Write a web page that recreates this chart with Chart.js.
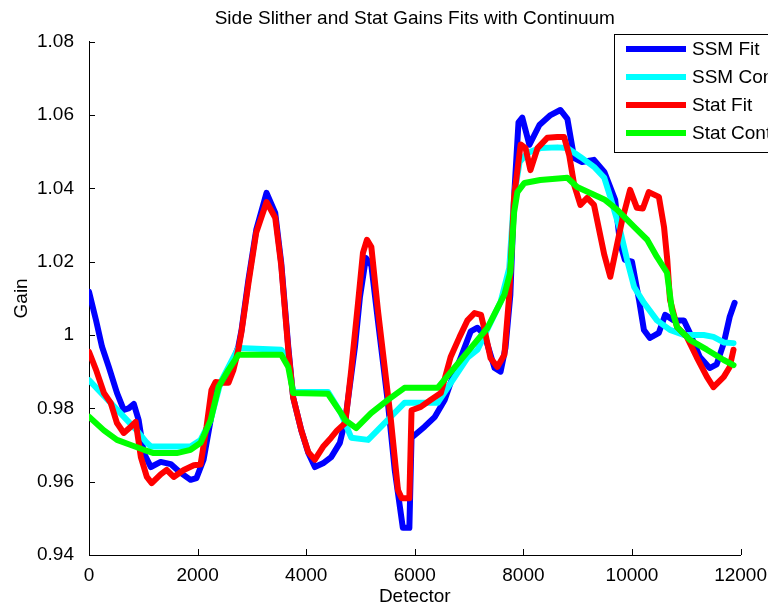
<!DOCTYPE html>
<html>
<head>
<meta charset="utf-8">
<script src="https://cdn.jsdelivr.net/npm/chart.js@4.4.0/dist/chart.umd.min.js"></script>
<style>
  html, body { margin: 0; padding: 0; background: #fff; overflow: hidden; }
</style>
</head>
<body>
<canvas id="gains" width="768" height="608"></canvas>
<script>
// detector position / gain pairs for each curve
const ssmFitX = [0, 130, 240, 365, 515, 640, 730, 825, 915, 1010, 1140, 1320, 1505, 1690, 1870, 1980, 2110, 2240, 2330, 2440, 2570, 2750, 2810, 2935, 3080, 3270, 3430, 3540, 3670, 3760, 3910, 4040, 4160, 4310, 4460, 4620, 4720, 4900, 4990, 5100, 5200, 5320, 5505, 5630, 5780, 5900, 5940, 6180, 6370, 6550, 6660, 6850, 7030, 7155, 7285, 7470, 7580, 7670, 7760, 7830, 7910, 7980, 8110, 8295, 8500, 8680, 8810, 8935, 9080, 9300, 9490, 9690, 9780, 9870, 10000, 10130, 10220, 10330, 10495, 10610, 10770, 10955, 11065, 11250, 11430, 11560, 11690, 11800, 11890];
const ssmFitY = [1.0118, 1.004, 0.9968, 0.9913, 0.9842, 0.9796, 0.98, 0.9812, 0.9768, 0.9678, 0.964, 0.9654, 0.9648, 0.9624, 0.9605, 0.961, 0.966, 0.9768, 0.985, 0.987, 0.9896, 0.9968, 1.0014, 1.015, 1.0287, 1.0388, 1.0333, 1.0197, 0.9968, 0.983, 0.974, 0.9678, 0.964, 0.965, 0.9667, 0.9706, 0.9768, 0.997, 1.0104, 1.021, 1.019, 1.004, 0.9815, 0.9632, 0.9474, 0.9474, 0.972, 0.975, 0.9777, 0.9823, 0.987, 0.994, 1.001, 1.002, 1.0, 0.991, 0.99, 0.9965, 1.011, 1.038, 1.058, 1.0593, 1.0519, 1.0573, 1.06, 1.0614, 1.059, 1.0483, 1.0472, 1.0478, 1.0445, 1.0369, 1.0251, 1.0205, 1.02, 1.0096, 1.0014, 0.9992, 1.0006, 1.0055, 1.004, 1.004, 1.0006, 0.994, 0.991, 0.992, 0.9978, 1.005, 1.0088];

const ssmContX = [0, 700, 880, 1065, 1140, 1870, 2055, 2240, 2420, 2750, 3540, 3670, 3760, 4400, 4640, 4830, 5140, 5380, 5810, 6420, 6970, 7155, 7580, 7740, 7830, 7930, 8075, 8310, 8625, 8810, 9050, 9300, 9490, 9600, 9780, 9910, 10040, 10220, 10460, 10700, 10955, 11320, 11500, 11690, 11870];
const ssmContY = [0.9877, 0.9768, 0.974, 0.9706, 0.9696, 0.9696, 0.9714, 0.9768, 0.987, 0.9965, 0.996, 0.993, 0.9845, 0.9845, 0.9787, 0.972, 0.9714, 0.975, 0.9815, 0.9815, 0.9938, 0.996, 1.009, 1.0183, 1.038, 1.0472, 1.0497, 1.051, 1.0512, 1.051, 1.0486, 1.0459, 1.0429, 1.0377, 1.0287, 1.0205, 1.0131, 1.0088, 1.004, 1.0014, 1.0, 1.0, 0.9995, 0.998, 0.9978];

const statFitX = [0, 130, 275, 400, 515, 640, 770, 860, 955, 1065, 1155, 1320, 1430, 1560, 1745, 1930, 2055, 2165, 2255, 2330, 2440, 2570, 2660, 2750, 2810, 2935, 3080, 3270, 3430, 3540, 3670, 3760, 3910, 4040, 4160, 4310, 4460, 4570, 4720, 4830, 4955, 5045, 5120, 5200, 5320, 5560, 5690, 5760, 5900, 5940, 6110, 6290, 6480, 6660, 6825, 6970, 7100, 7220, 7285, 7395, 7520, 7650, 7740, 7830, 7950, 8040, 8130, 8260, 8440, 8625, 8750, 8845, 8935, 9050, 9175, 9300, 9490, 9600, 9820, 9965, 10090, 10200, 10310, 10495, 10590, 10650, 10700, 10830, 11010, 11190, 11380, 11500, 11690, 11800, 11870];
const statFitY = [0.9954, 0.9905, 0.9842, 0.9815, 0.976, 0.9733, 0.975, 0.9763, 0.9667, 0.9613, 0.9596, 0.962, 0.9632, 0.9613, 0.9632, 0.9645, 0.9647, 0.975, 0.985, 0.9872, 0.987, 0.987, 0.9905, 0.996, 1.001, 1.014, 1.028, 1.0363, 1.032, 1.019, 0.996, 0.983, 0.974, 0.968, 0.966, 0.9695, 0.972, 0.974, 0.976, 0.9905, 1.0088, 1.0224, 1.026, 1.024, 1.0069, 0.9768, 0.9577, 0.9555, 0.9555, 0.9795, 0.9804, 0.9823, 0.9842, 0.994, 0.9995, 1.004, 1.006, 1.0055, 1.0014, 0.9937, 0.9913, 0.9946, 1.011, 1.038, 1.052, 1.051, 1.045, 1.051, 1.0538, 1.054, 1.054, 1.049, 1.041, 1.0355, 1.0374, 1.0355, 1.0219, 1.0159, 1.0314, 1.0396, 1.0347, 1.0345, 1.039, 1.0377, 1.0295, 1.0205, 1.0096, 1.0022, 0.9995, 0.994, 0.9886, 0.9858, 0.9886, 0.9913, 0.996];

const statContX = [0, 275, 515, 770, 1010, 1190, 1615, 1870, 2055, 2240, 2385, 2570, 2750, 3540, 3670, 3760, 4400, 4640, 4720, 4920, 5195, 5505, 5810, 6420, 7155, 7340, 7650, 7760, 7830, 7890, 8020, 8310, 8810, 8990, 9300, 9490, 9725, 10040, 10280, 10460, 10645, 10735, 10830, 11065, 11380, 11690, 11870];
const statContY = [0.9777, 0.974, 0.9714, 0.97, 0.9687, 0.9678, 0.9678, 0.9687, 0.9706, 0.9768, 0.9858, 0.9905, 0.9946, 0.9946, 0.9913, 0.9842, 0.984, 0.9787, 0.9768, 0.9746, 0.9787, 0.9823, 0.9856, 0.9856, 0.9987, 1.002, 1.011, 1.0172, 1.0336, 1.039, 1.0415, 1.0423, 1.0429, 1.0404, 1.0383, 1.037, 1.0342, 1.0295, 1.026, 1.0213, 1.017, 1.0069, 1.0022, 0.9987, 0.996, 0.9932, 0.9918];

const seriesNames = ['SSM Fit', 'SSM Continuum', 'Stat Fit', 'Stat Continuum'];
const xTicks = [0, 2000, 4000, 6000, 8000, 10000, 12000];
const yTicks = [0.94, 0.96, 0.98, 1.0, 1.02, 1.04, 1.06, 1.08];

const FONT = '"Liberation Sans", Arial, sans-serif';

function pts(xs, ys) {
  return xs.map((x, i) => ({ x: x, y: ys[i] }));
}

function line(label, xs, ys, color, order) {
  return {
    label: label,
    data: pts(xs, ys),
    borderColor: color,
    backgroundColor: color,
    borderWidth: 6,
    pointRadius: 0,
    tension: 0,
    borderJoinStyle: 'round',
    borderCapStyle: 'round',
    order: order
  };
}

// matlab-style ticks pointing into the axes
const inwardTicks = {
  id: 'inwardTicks',
  beforeDatasetsDraw(chart) {
    const { ctx, chartArea: a, scales } = chart;
    ctx.save();
    ctx.strokeStyle = '#000';
    ctx.lineWidth = 1;
    ctx.beginPath();
    scales.x.ticks.forEach((t, i) => {
      const px = Math.round(scales.x.getPixelForTick(i)) + 0.5;
      ctx.moveTo(px, a.bottom);
      ctx.lineTo(px, a.bottom - 6);
    });
    scales.y.ticks.forEach((t, i) => {
      const py = Math.round(scales.y.getPixelForTick(i)) + 0.5;
      ctx.moveTo(a.left, py);
      ctx.lineTo(a.left + 6, py);
    });
    ctx.stroke();
    ctx.restore();
  }
};

// boxed legend in the upper right corner, running off the edge
const boxLegend = {
  id: 'boxLegend',
  afterDraw(chart) {
    const ctx = chart.ctx;
    const left = 614, top = 34, rowH = 28;
    ctx.save();
    ctx.fillStyle = '#fff';
    ctx.fillRect(left, top, 200, 118);
    ctx.strokeStyle = '#000';
    ctx.lineWidth = 1;
    ctx.strokeRect(left + 0.5, top + 0.5, 200, 118);
    ctx.font = '19px ' + FONT;
    ctx.textBaseline = 'middle';
    chart.data.datasets.forEach((ds, i) => {
      const yy = top + 15 + i * rowH;
      ctx.strokeStyle = ds.borderColor;
      ctx.lineWidth = 6;
      ctx.beginPath();
      ctx.moveTo(left + 12, yy);
      ctx.lineTo(left + 72, yy);
      ctx.stroke();
      ctx.fillStyle = '#000';
      ctx.fillText(ds.label, left + 78, yy + 1);
    });
    ctx.restore();
  }
};

new Chart(document.getElementById('gains'), {
  type: 'line',
  data: {
    datasets: [
      line(seriesNames[0], ssmFitX, ssmFitY, '#0000ff', 4),
      line(seriesNames[1], ssmContX, ssmContY, '#00ffff', 3),
      line(seriesNames[2], statFitX, statFitY, '#ff0000', 2),
      line(seriesNames[3], statContX, statContY, '#00ff00', 1)
    ]
  },
  options: {
    responsive: false,
    animation: false,
    devicePixelRatio: 1,
    layout: { padding: { left: 0, right: 27, top: 0, bottom: 0 } },
    plugins: {
      legend: { display: false },
      tooltip: { enabled: false },
      title: {
        display: true,
        text: 'Side Slither and Stat Gains Fits with Continuum',
        fullSize: false,
        color: '#000',
        font: { family: FONT, size: 19, weight: 'normal' },
        padding: { top: 7, bottom: 12 }
      }
    },
    scales: {
      x: {
        type: 'linear',
        min: xTicks[0],
        max: xTicks[xTicks.length - 1],
        afterBuildTicks: s => { s.ticks = xTicks.map(v => ({ value: v })); },
        afterFit: s => { s.height = 53; },
        ticks: {
          color: '#000',
          padding: 1,
          maxRotation: 0,
          font: { family: FONT, size: 19 },
          callback: v => String(v)
        },
        grid: { display: false },
        border: { color: '#000', width: 1 },
        title: {
          display: true,
          text: 'Detector',
          color: '#000',
          font: { family: FONT, size: 19 },
          padding: { top: 0, bottom: 0 }
        }
      },
      y: {
        type: 'linear',
        min: yTicks[0],
        max: yTicks[yTicks.length - 1],
        afterBuildTicks: s => { s.ticks = yTicks.map(v => ({ value: v })); },
        afterFit: s => { s.width = 89; },
        ticks: {
          color: '#000',
          padding: 7,
          font: { family: FONT, size: 19 },
          callback: v => String(+v.toFixed(2))
        },
        grid: { display: false },
        border: { color: '#000', width: 1 },
        title: {
          display: true,
          text: 'Gain',
          color: '#000',
          font: { family: FONT, size: 19 },
          padding: { top: 10, bottom: 0 }
        }
      }
    }
  },
  plugins: [inwardTicks, boxLegend]
});
</script>
</body>
</html>
